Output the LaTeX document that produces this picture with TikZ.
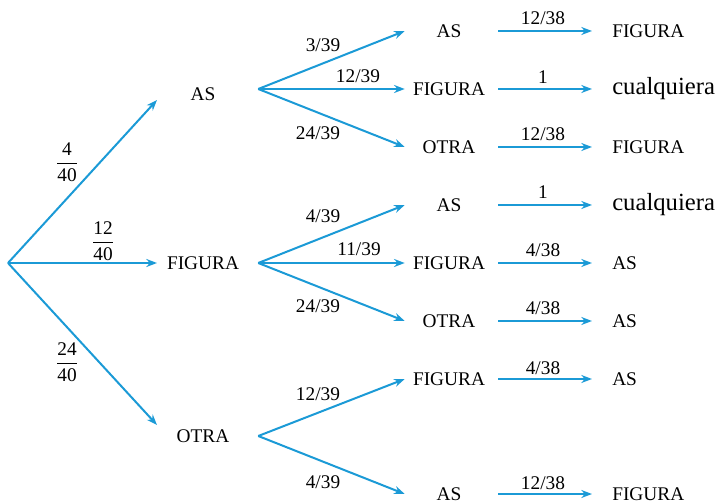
\documentclass[tikz,border=0pt]{standalone}
\usepackage{amsmath}
\usepackage{fontspec}
\setmainfont{Liberation Serif}
\usetikzlibrary{arrows.meta}

\definecolor{ramaazul}{RGB}{27,154,214}

\begin{document}
\begin{tikzpicture}
  [x=0.75pt,y=-0.75pt,
   every node/.style={font=\fontsize{14.5}{17}\selectfont, inner sep=0pt},
   rama/.style={draw=ramaazul, line width=1.5pt, -{Stealth[length=8pt,width=6pt]}},
   nivel1/.style={minimum width=82.5pt},
   nivel2/.style={minimum width=66pt},
   final/.style={anchor=west},
   grande/.style={final, font=\fontsize{18.5}{22}\selectfont}]
  \useasboundingbox (0,0) rectangle (719,503);

  % primer nivel
  \coordinate (raiz) at (8,263);
  \coordinate (t-as) at (157,100);
  \coordinate (t-fig) at (157,263);
  \coordinate (t-otra) at (157,425);

  \node[nivel1] (as) at (203,94) {AS};
  \node[nivel1] (fig) at (203,263) {FIGURA};
  \node[nivel1] (otra) at (203,436) {OTRA};

  \node (p1) at (67,162) {$\dfrac{\mbox{4}}{\mbox{40}}$};
  \node (p2) at (103,241) {$\dfrac{\mbox{12}}{\mbox{40}}$};
  \node (p3) at (67,362) {$\dfrac{\mbox{24}}{\mbox{40}}$};

  \foreach \to in {t-as, t-fig, t-otra}
    \draw[rama] (raiz) -- (\to);

  % segundo nivel
  \node[nivel2] (as-as) at (449,31) {AS};
  \node[nivel2] (as-fig) at (449,89) {FIGURA};
  \node[nivel2] (as-otra) at (449,147) {OTRA};
  \node[nivel2] (fig-as) at (449,205) {AS};
  \node[nivel2] (fig-fig) at (449,263) {FIGURA};
  \node[nivel2] (fig-otra) at (449,321) {OTRA};
  \node[nivel2] (otra-fig) at (449,379) {FIGURA};
  \node[nivel2] (otra-as) at (449,494) {AS};

  \node (q1) at (323,45) {3/39};
  \node (q2) at (358,76) {12/39};
  \node (q3) at (318,133) {24/39};
  \node (q4) at (323,216) {4/39};
  \node (q5) at (359,249) {11/39};
  \node (q6) at (318,306) {24/39};
  \node (q7) at (318,394) {12/39};
  \node (q8) at (323,482) {4/39};

  \foreach \to in {as-as, as-fig, as-otra}
    \draw[rama] ([yshift=3.75pt]as.east) -- (\to.west);
  \foreach \to in {fig-as, fig-fig, fig-otra}
    \draw[rama] (fig.east) -- (\to.west);
  \foreach \to in {otra-fig, otra-as}
    \draw[rama] (otra.east) -- (\to.west);

  % tercer nivel
  \node[final] (f1) at (612,31) {FIGURA};
  \node[grande] (f2) at (612,89) {cualquiera};
  \node[final] (f3) at (612,147) {FIGURA};
  \node[grande] (f4) at (612,205) {cualquiera};
  \node[final] (f5) at (612,263) {AS};
  \node[final] (f6) at (612,321) {AS};
  \node[final] (f7) at (612,379) {AS};
  \node[final] (f8) at (612,494) {FIGURA};

  \node (r1) at (543,18) {12/38};
  \node (r2) at (543,77) {1};
  \node (r3) at (543,134) {12/38};
  \node (r4) at (543,192) {1};
  \node (r5) at (543,250) {4/38};
  \node (r6) at (543,308) {4/38};
  \node (r7) at (543,368) {4/38};
  \node (r8) at (543,483) {12/38};

  \foreach \from/\to in {as-as/f1, as-fig/f2, as-otra/f3, fig-as/f4, fig-fig/f5, fig-otra/f6, otra-fig/f7, otra-as/f8}
    \draw[rama, shorten <=3.75pt, shorten >=15pt] (\from.east |- \to.west) -- (\to.west);
\end{tikzpicture}
\end{document}
